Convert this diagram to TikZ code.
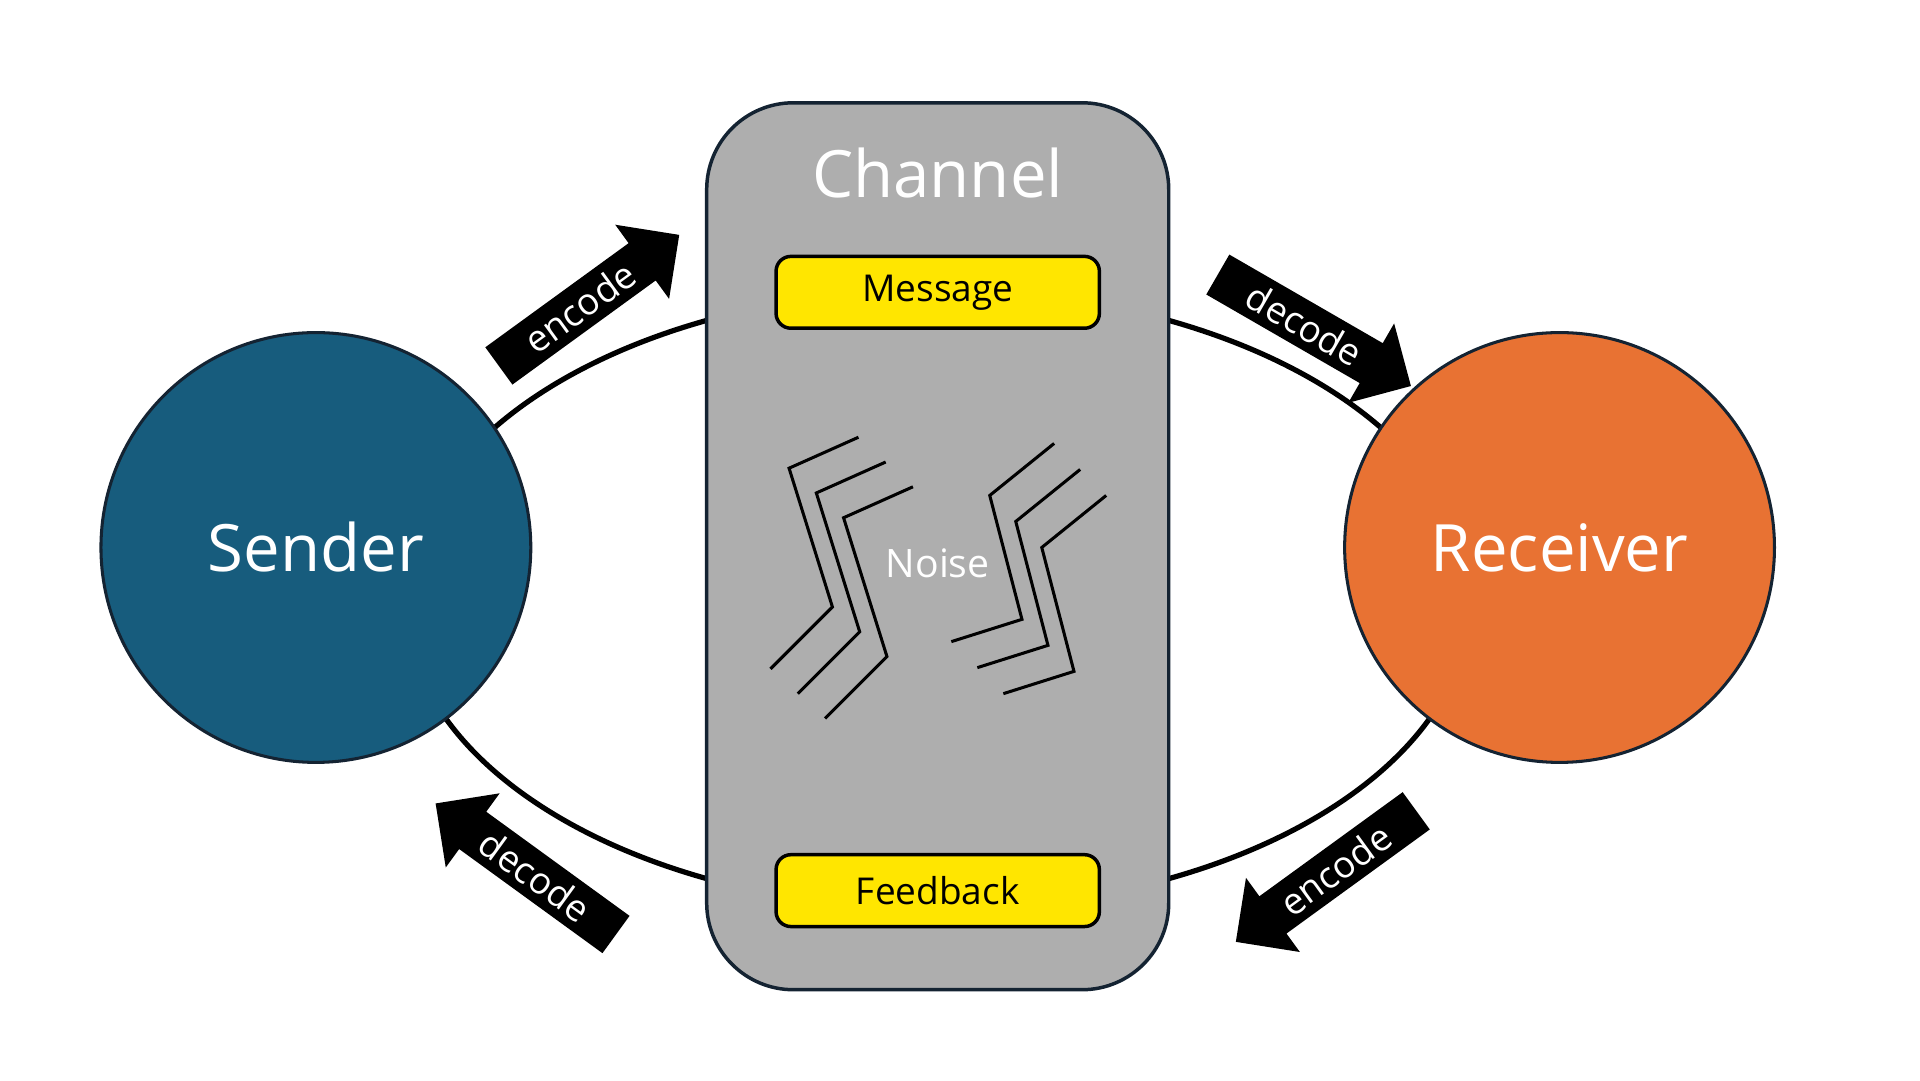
\documentclass[tikz,border=0pt]{standalone}
\usepackage{fontspec}
\setmainfont{Open Sans}
\usetikzlibrary{shapes.arrows}
\definecolor{senderblue}{RGB}{23,92,125}
\definecolor{receiverorange}{RGB}{232,114,51}
\definecolor{channelgray}{RGB}{174,174,174}
\definecolor{edgedark}{RGB}{20,35,50}
\definecolor{msgyellow}{RGB}{255,230,0}
\tikzset{
  party/.style={circle, draw=edgedark, line width=0.7pt, minimum size=34.7mm,
    text=white, font=\fontsize{15}{18}\selectfont},
  tag/.style={draw=black, line width=0.8pt, fill=msgyellow, rounded corners=1.2mm,
    minimum width=26.1mm, minimum height=5.8mm, font=\fontsize{8.5}{10}\selectfont},
  codearrow/.style={single arrow, fill=black, text=white, inner sep=0.6mm,
    minimum height=18mm, minimum width=7.4mm, single arrow head extend=1.8mm,
    font=\fontsize{8.5}{10}\selectfont},
  noiseline/.style={line width=0.7pt}
}
\begin{document}
\begin{tikzpicture}[x=0.1mm,y=0.1mm]
    \useasboundingbox (0,0) rectangle (1550,872);

    % --- loop behind everything ---
    \draw[line width=1.2pt] (757,388) ellipse (430 and 250);

    % --- channel ---
    \node[draw=edgedark, line width=0.8pt, fill=channelgray, rounded corners=7mm,
      minimum width=37.3mm, minimum height=71.6mm] (channel) at (757,431) {};
    \node[text=white, font=\fontsize{15}{18}\selectfont] (chtitle) at (757,732) {Channel};
    \node[tag] (message) at (757,636) {Message};
    \node[tag] (feedback) at (757,153) {Feedback};

    % --- noise ---
    \foreach \d in {0,1,2}{
      \draw[noiseline] (693+22*\d,519-20*\d) -- (637+22*\d,494-20*\d)
        -- (672+22*\d,382-20*\d) -- (622+22*\d,332-20*\d);
      \draw[noiseline] (851+21*\d,514-21*\d) -- (799+21*\d,472-21*\d)
        -- (825+21*\d,372-21*\d) -- (768+21*\d,354-21*\d);
    }
    \node[text=white, font=\fontsize{9}{11}\selectfont] (noise) at (757,417) {Noise};

    % --- sender and receiver ---
    \node[party, fill=senderblue] (sender) at (255,430) {Sender};
    \node[party, fill=receiverorange] (receiver) at (1259,430) {Receiver};

    % --- encode / decode arrows ---
    \node[codearrow, rotate=36] (enctop) at (468,624) {encode};
    \node[codearrow, rotate=-30] (dectop) at (1053,610) {decode};
    \node[codearrow, rotate=36, shape border rotate=180] (encbot) at (1078,170) {encode};
    \node[codearrow, rotate=-36, shape border rotate=180] (decbot) at (432,165) {decode};
\end{tikzpicture}
\end{document}
